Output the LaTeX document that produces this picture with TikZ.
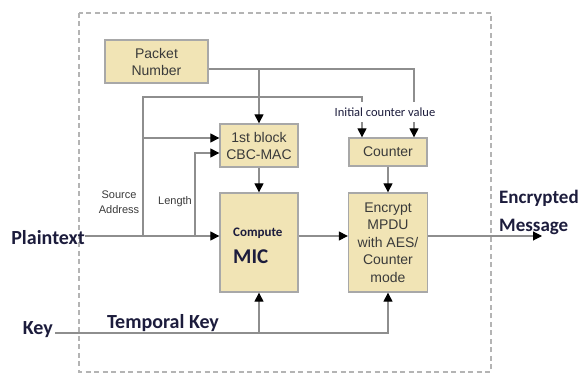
\documentclass[tikz,border=0pt]{standalone}
\usepackage{fontspec}
\setmainfont{Liberation Sans}
\newfontfamily\labfont{Carlito}
\usetikzlibrary{arrows.meta,calc}
\definecolor{boxfill}{HTML}{F1E4B5}
\definecolor{boxline}{HTML}{A8A8A8}
\definecolor{wire}{HTML}{8E8E8E}
\definecolor{labcol}{HTML}{1C1C3C}
\definecolor{boxtext}{HTML}{3A3A3A}
\definecolor{framecol}{HTML}{B4B4B4}
\begin{document}
\begin{tikzpicture}[x=1pt,y=-1pt,
  blk/.style={draw=boxline, line width=1.3pt, fill=boxfill, align=center,
    font=\fontsize{14}{17}\selectfont, text=boxtext, inner sep=0pt},
  wirel/.style={draw=wire, line width=1.1pt},
  arr/.style={wirel, -{Triangle[length=9pt,width=9pt,color=black]}},
  big/.style={font=\labfont\bfseries\fontsize{20}{28}\selectfont, text=labcol, inner sep=0pt},
  small/.style={font=\fontsize{11}{14.5}\selectfont, text=boxtext, align=center, inner sep=0pt},
  frame/.style={draw=framecol, line width=1.4pt, dash pattern=on 5pt off 3.5pt}]
\useasboundingbox (0,0) rectangle (582,374);

% outer dashed boundary
\draw[frame] (79,13) rectangle (491,372);

% processing blocks
\node[blk, minimum width=103pt, minimum height=43pt] (pn) at (156.5,61.5) {Packet\\Number};
\node[blk, minimum width=78pt, minimum height=43pt] (cbc) at (259,145.5) {1st block\\CBC-MAC};
\node[blk, minimum width=78pt, minimum height=28pt] (ctr) at (388,152) {Counter};
\node[blk, minimum width=78pt, minimum height=99pt] (mic) at (259,242.5) {};
\node[blk, minimum width=79pt, minimum height=99pt,
      font=\fontsize{14}{17.5}\selectfont] (enc) at (388,242.5)
      {Encrypt\\MPDU\\with AES/\\Counter\\mode};
\node[font=\labfont\bfseries\fontsize{13}{15}\selectfont, text=labcol, anchor=west, inner sep=0pt]
      (cmp) at (233,233) {Compute};
\node[font=\labfont\bfseries\fontsize{21}{24}\selectfont, text=labcol, anchor=west, inner sep=0pt]
      (micl) at (233,257) {MIC};

% outer labels
\node[big, anchor=east] (plain) at (85,238) {Plaintext};
\node[big, anchor=east] (key) at (53,330) {Key};
\node[big] (tk) at (163,323) {Temporal Key};
\node[big, anchor=west, align=left, font=\labfont\bfseries\fontsize{19}{28}\selectfont]
      (em) at (499,212) {Encrypted\\Message};
\node[small] (sa) at (119,202) {Source\\Address};
\node[small] (len) at (175,202) {Length};

% junction and end points
\coordinate (pnout) at ($(pn.east)+(0,7.5)$);
\coordinate (ptend) at (85,236);
\coordinate (keyend) at (55,333);
\coordinate (srcj) at (143,236);
\coordinate (lenj) at (195,236);
\coordinate (srctop) at (143,97);
\coordinate (cbcu) at ($(cbc.west)+(0,-7.5)$);
\coordinate (cbcl) at ($(cbc.west)+(0,7.5)$);
\coordinate (ctrl) at ($(ctr.north)+(-26,0)$);
\coordinate (ctrr) at ($(ctr.north)+(26,0)$);
\coordinate (out) at (542,236);

% packet number feeds
\draw[arr] (pnout) -| (ctrr);
\draw[arr] (pnout -| cbc.north) -- (cbc.north);
% source address feeds
\draw[arr] (srcj) -- (srctop) -| (ctrl);
\draw[arr] (srcj |- cbcu) -- (cbcu);
% length feed
\draw[arr] (lenj) |- (cbcl);
% main data path
\draw[arr] (ptend) -- (ptend -| mic.west);
\draw[arr] (cbc.south) -- (mic.north);
\draw[arr] (ctr.south) -- (enc.north);
\draw[arr] (ptend -| mic.east) -- (ptend -| enc.west);
\draw[arr] (out -| enc.east) -- (out);
% temporal key
\draw[arr] (keyend) -| (enc.south);
\draw[arr] (keyend -| mic.south) -- (mic.south);

% label over the counter inputs
\node[fill=white, inner xsep=2pt, inner ysep=6pt, font=\labfont\fontsize{12.5}{14}\selectfont,
      text=labcol] (icv) at (385,112) {Initial counter value};
\end{tikzpicture}
\end{document}
